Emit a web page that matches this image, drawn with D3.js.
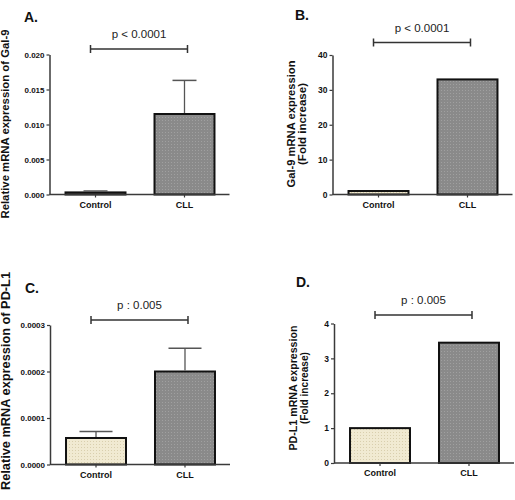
<!DOCTYPE html>
<html>
<head>
<meta charset="utf-8">
<script src="https://cdn.jsdelivr.net/npm/d3@7"></script>
<style>
  html, body { margin: 0; padding: 0; background: #fff; }
  svg { display: block; font-family: "Liberation Sans", Arial, sans-serif; }
</style>
</head>
<body>
<svg id="chart" width="515" height="500"></svg>
<script>
// ---------------- DATA ----------------
const categories = ["Control", "CLL"];

// Panel A: relative Gal-9 mRNA expression
const galRelValues = [0.0003, 0.0115];
const galRelErrors = [0.0002, 0.0048];
const galRelTicks = [0, 0.005, 0.010, 0.015, 0.020];
const galRelTickLabels = ["0.000", "0.005", "0.010", "0.015", "0.020"];

// Panel B: Gal-9 fold increase
const galFoldValues = [1, 33];
const galFoldTicks = [0, 10, 20, 30, 40];
const galFoldTickLabels = ["0", "10", "20", "30", "40"];

// Panel C: relative PD-L1 mRNA expression
const pdlRelValues = [0.000057, 0.0002];
const pdlRelErrors = [0.000014, 0.00005];
const pdlRelTicks = [0, 0.0001, 0.0002, 0.0003];
const pdlRelTickLabels = ["0.0000", "0.0001", "0.0002", "0.0003"];

// Panel D: PD-L1 fold increase
const pdlFoldValues = [1, 3.45];
const pdlFoldTicks = [0, 1, 2, 3, 4];
const pdlFoldTickLabels = ["0", "1", "2", "3", "4"];

const panelTitles = ["A.", "B.", "C.", "D."];
const pLabels = ["p < 0.0001", "p < 0.0001", "p : 0.005", "p : 0.005"];
const yLabelsA = ["Relative mRNA expression of Gal-9"];
const yLabelsB = ["Gal-9 mRNA expression", "(Fold increase)"];
const yLabelsC = ["Relative mRNA expression of PD-L1"];
const yLabelsD = ["PD-L1 mRNA expression", "(Fold increase)"];

// ---------------- DRAWING ----------------
const svg = d3.select("#chart");
const defs = svg.append("defs");

function dotPattern(id, bg, dot) {
  const p = defs.append("pattern").attr("id", id)
    .attr("patternUnits", "userSpaceOnUse").attr("width", 3).attr("height", 3);
  p.append("rect").attr("width", 3).attr("height", 3).attr("fill", bg);
  p.append("rect").attr("x", 0).attr("y", 0).attr("width", 1).attr("height", 1).attr("fill", dot);
  return "url(#" + id + ")";
}
const fillCLL = dotPattern("dotsGray", "#8a8a8a", "#a0a0a0");
const fillCtrl = dotPattern("dotsBeige", "#f1ead2", "#d9cfae");
const barFills = [fillCtrl, fillCLL];

const axisColor = "#3a3a3a";

function panel(cfg) {
  const g = svg.append("g");
  const x = d3.scaleBand().domain(categories)
    .range([cfg.axisX, cfg.axisX + 181])
    .paddingInner(0.326).paddingOuter(0.18);
  const y = d3.scaleLinear().domain([0, cfg.ticks[cfg.ticks.length - 1]])
    .range([cfg.yBottom, cfg.yTop]);

  // bars
  g.selectAll("rect.bar").data(cfg.values).join("rect")
    .attr("class", "bar")
    .attr("x", (d, i) => x(categories[i]))
    .attr("width", x.bandwidth())
    .attr("y", d => y(d))
    .attr("height", d => y(0) - y(d))
    .attr("fill", (d, i) => barFills[i])
    .attr("stroke", "#111")
    .attr("stroke-width", 2);

  // error bars (upper only)
  if (cfg.errors) {
    cfg.values.forEach((v, i) => {
      const cx = x(categories[i]) + x.bandwidth() / 2;
      const top = y(v + cfg.errors[i]);
      g.append("line").attr("x1", cx).attr("x2", cx)
        .attr("y1", y(v) - 1).attr("y2", top)
        .attr("stroke", "#555").attr("stroke-width", 1.3);
      g.append("line").attr("x1", cx - cfg.cap / 2).attr("x2", cx + cfg.cap / 2)
        .attr("y1", top).attr("y2", top)
        .attr("stroke", "#555").attr("stroke-width", 1.5);
    });
  }

  // y axis
  const yAxis = d3.axisLeft(y).tickValues(cfg.ticks)
    .tickFormat((d, i) => cfg.tickLabels[i]).tickSize(3).tickSizeOuter(0).tickPadding(2);
  const ya = g.append("g").attr("transform", `translate(${cfg.axisX},0)`).call(yAxis);
  ya.select(".domain").attr("stroke", axisColor).attr("stroke-width", 1.5);
  ya.selectAll(".tick line").attr("stroke", axisColor).attr("stroke-width", 1.2);
  ya.selectAll(".tick text").attr("font-size", cfg.tickFont).attr("font-weight", "bold")
    .attr("fill", "#111").attr("font-family", "Liberation Sans, Arial, sans-serif");

  // x axis
  const xAxis = d3.axisBottom(x).tickSize(3).tickSizeOuter(0).tickPadding(4);
  const xa = g.append("g").attr("transform", `translate(0,${cfg.yBottom})`).call(xAxis);
  xa.select(".domain").attr("stroke", axisColor).attr("stroke-width", 1.5)
    .attr("d", `M${cfg.axisX},0H${cfg.axisX + 180}`);
  xa.selectAll(".tick line").attr("stroke", axisColor).attr("stroke-width", 1.2);
  xa.selectAll(".tick text").attr("font-size", 9).attr("font-weight", "bold")
    .attr("fill", "#111").attr("font-family", "Liberation Sans, Arial, sans-serif");

  // title
  g.append("text").attr("x", cfg.titleX).attr("y", cfg.titleY)
    .attr("font-size", 14).attr("font-weight", "bold").attr("fill", "#111")
    .text(cfg.title);

  // significance bracket
  const bx1 = x(categories[0]) + x.bandwidth() / 2 - 5;
  const bx2 = x(categories[1]) + x.bandwidth() / 2 + 3;
  const by = cfg.bracketY;
  g.append("path")
    .attr("d", `M${bx1},${by - 4}V${by + 4}M${bx1},${by}H${bx2}M${bx2},${by - 4}V${by + 4}`)
    .attr("stroke", "#333").attr("stroke-width", 1.5).attr("fill", "none");
  g.append("text").attr("x", (bx1 + bx2) / 2).attr("y", by - 11)
    .attr("text-anchor", "middle").attr("font-size", 11.5).attr("fill", "#222")
    .text(cfg.pLabel);

  // y label
  const yl = g.append("text")
    .attr("transform", `translate(${cfg.yLabelX},${cfg.yLabelY}) rotate(-90)`)
    .attr("text-anchor", "middle").attr("font-size", cfg.yLabelFont)
    .attr("font-weight", "bold").attr("fill", "#111");
  cfg.yLabel.forEach((t, i) => {
    yl.append("tspan").attr("x", 0).attr("dy", i === 0 ? 0 : cfg.yLabelFont * 1.0)
      .attr("textLength", cfg.yLabelLen[i]).attr("lengthAdjust", "spacingAndGlyphs")
      .text(t);
  });
}

panel({
  values: galRelValues, errors: galRelErrors, cap: 24,
  ticks: galRelTicks, tickLabels: galRelTickLabels, tickFont: 8,
  axisX: 49.5, yTop: 54.5, yBottom: 194.5,
  title: panelTitles[0], titleX: 24, titleY: 22,
  pLabel: pLabels[0], bracketY: 49,
  yLabel: yLabelsA, yLabelLen: [189], yLabelX: 8.5, yLabelY: 124, yLabelFont: 11
});
panel({
  values: galFoldValues, errors: null,
  ticks: galFoldTicks, tickLabels: galFoldTickLabels, tickFont: 8.5,
  axisX: 332.5, yTop: 55, yBottom: 194.5,
  title: panelTitles[1], titleX: 295, titleY: 20,
  pLabel: pLabels[1], bracketY: 42.5,
  yLabel: yLabelsB, yLabelLen: [127, 82], yLabelX: 295, yLabelY: 124, yLabelFont: 11
});
panel({
  values: pdlRelValues, errors: pdlRelErrors, cap: 33,
  ticks: pdlRelTicks, tickLabels: pdlRelTickLabels, tickFont: 8,
  axisX: 50, yTop: 325, yBottom: 464.5,
  title: panelTitles[2], titleX: 25, titleY: 293,
  pLabel: pLabels[2], bracketY: 320,
  yLabel: yLabelsC, yLabelLen: [218], yLabelX: 9.5, yLabelY: 381, yLabelFont: 12
});
panel({
  values: pdlFoldValues, errors: null,
  ticks: pdlFoldTicks, tickLabels: pdlFoldTickLabels, tickFont: 8.5,
  axisX: 334, yTop: 323.5, yBottom: 463,
  title: panelTitles[3], titleX: 296, titleY: 287,
  pLabel: pLabels[3], bracketY: 315,
  yLabel: yLabelsD, yLabelLen: [125, 72], yLabelX: 297, yLabelY: 388, yLabelFont: 11
});
</script>
</body>
</html>
